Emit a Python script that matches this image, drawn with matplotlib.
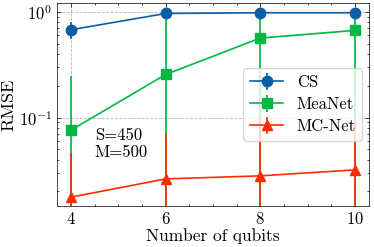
import numpy as np
import matplotlib
matplotlib.use("Agg")
import matplotlib.pyplot as plt
from matplotlib.ticker import AutoMinorLocator

# ---------------- data ------------------------------------------------------
qubits = [4, 6, 8, 10]

cs_rmse = [0.68, 0.97, 0.985, 0.985]
cs_err = [0.12, 0.02, 0.02, 0.02]

meanet_rmse = [0.076, 0.256, 0.567, 0.67]
meanet_err_lo = [0.076, 0.256, 0.567, 0.67]  # down to zero
meanet_err_hi = [0.172, 0.69, 0.41, 0.31]

mcnet_rmse = [0.0176, 0.0262, 0.028, 0.0319]
mcnet_err = [0.029, 0.045, 0.067, 0.058]

# ---------------- style -----------------------------------------------------
plt.rcParams.update({
    "font.family": "cmr10",
    "mathtext.fontset": "cm",
    "axes.formatter.use_mathtext": True,
    "font.size": 12,
    "axes.linewidth": 0.5,
    "xtick.direction": "in",
    "ytick.direction": "in",
    "xtick.top": True,
    "ytick.right": True,
    "xtick.major.size": 3,
    "ytick.major.size": 3,
    "xtick.minor.size": 1.5,
    "ytick.minor.size": 1.5,
    "xtick.major.width": 0.5,
    "ytick.major.width": 0.5,
    "xtick.minor.width": 0.5,
    "ytick.minor.width": 0.5,
    "xtick.minor.visible": True,
    "ytick.minor.visible": True,
})

fig, ax = plt.subplots(figsize=(3.74, 2.47), dpi=100)
fig.subplots_adjust(left=0.152, right=0.987, bottom=0.166, top=0.988)

common = dict(capsize=0, lw=1.2, elinewidth=1.2, markersize=7.5)
ax.errorbar(qubits, cs_rmse, yerr=cs_err, color="#0C5DA5", marker="o",
            label="CS", **common)
ax.errorbar(qubits, meanet_rmse, yerr=[meanet_err_lo, meanet_err_hi],
            color="#00B945", marker="s", label="MeaNet", **common)
ax.errorbar(qubits, mcnet_rmse, yerr=mcnet_err, color="#FF2C00", marker="^",
            label="MC-Net", **common)

ax.set_yscale("log")
ax.set_xlim(3.7, 10.3)
ax.set_ylim(0.0145, 1.22)
ax.set_xticks(qubits)
ax.xaxis.set_minor_locator(AutoMinorLocator(4))
ax.grid(which="major", linestyle="--", color="#b8b8b8", linewidth=0.6)

ax.set_xlabel("Number of qubits", fontsize=12.5, labelpad=1)
ax.set_ylabel("RMSE", fontsize=13, labelpad=2)

ax.text(0.122, 0.385, "S=450\nM=500", transform=ax.transAxes,
        va="top", ha="left", linespacing=1.15)

ax.legend(loc="center right", fontsize=12, handlelength=2.0,
          borderaxespad=0.4, labelspacing=0.4)

fig.savefig("out.png", dpi=100)
